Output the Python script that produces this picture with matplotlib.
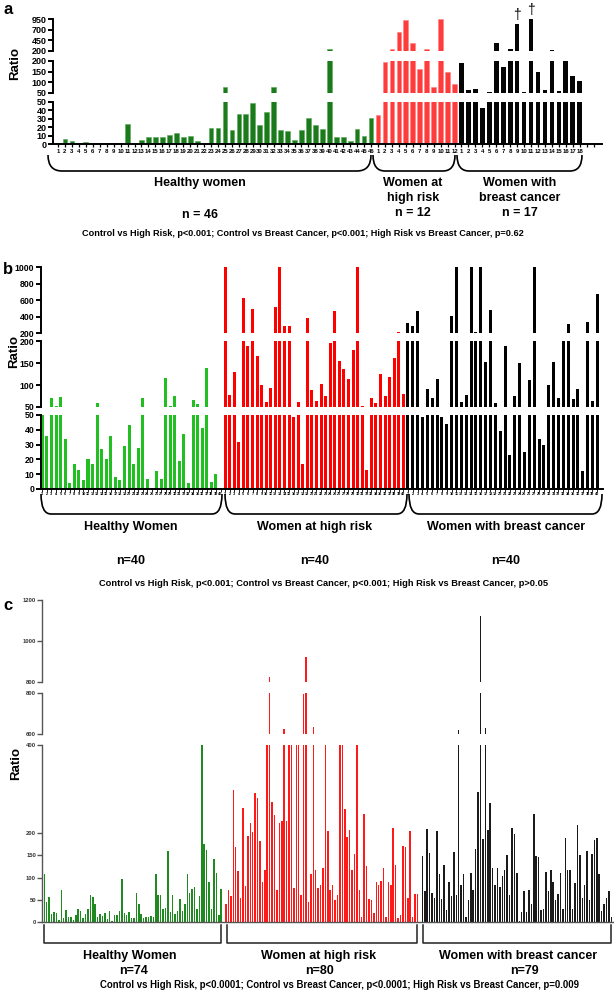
import numpy as np
import matplotlib
matplotlib.use('Agg')
import matplotlib.pyplot as plt
from matplotlib.path import Path
from matplotlib.patches import PathPatch

plt.rcParams['font.family'] = ['Liberation Sans', 'DejaVu Sans']
plt.rcParams['font.weight'] = 'bold'

# ---- panel a data (ratio per woman) ----
a_healthy = [1, 5.5, 3, 1.5, 2, 0, 0, 1, 1, 1, 24, 0, 5, 8, 8, 8.5, 10.5, 13, 8, 10,
             3.5, 0, 19, 19.5, 78, 16, 35, 35, 48, 23, 38, 78, 16, 15, 5, 16, 31, 22, 18, 250,
             8, 8.5, 3.5, 18, 10, 31]
a_risk = [34, 194, 240, 640, 925, 380, 161, 240, 78, 955, 146, 90]
a_cancer = [189, 63, 66, 42, 55, 395, 173, 240, 833, 55, 950, 150, 63, 225, 60, 199, 130, 105]
a_dagger = [9, 11]          # breast cancer cases marked with a dagger
a_extra_ticks = 2           # empty tick positions after the last group

# ---- panel b data ----
b_healthy = [51, 36, 70, 52, 73, 34, 4, 17, 13, 6, 20, 17, 58, 27, 20, 36, 8, 6, 29, 43,
             17, 28, 70, 7, 0, 12, 7, 117, 52, 75, 19, 37, 4, 67, 57, 41, 139, 5, 10, 1]
b_risk = [1000, 77, 129, 32, 624, 190, 495, 167, 100, 62, 94, 519, 1000, 289, 289, 48.6, 61, 17, 390, 88,
          64, 102, 76, 195, 475, 155, 137, 113, 180, 1000, 53, 13, 70, 59, 125, 76, 118, 162, 220, 79]
b_cancer = [321, 289, 470, 48.6, 90, 71, 113, 48.6, 44, 414, 1000, 62, 77, 1000, 212, 1000, 153, 483, 59, 39,
            190, 23, 75, 151, 25, 112, 1000, 34, 30, 100, 153, 71, 208, 313, 68, 90, 12, 337, 64, 677]

# ---- panel c data ----
c_healthy = [108, 45, 57, 18, 22, 20, 4, 72, 8, 26, 10, 11, 4, 16, 29, 25, 8, 17, 29, 61,
             55, 40, 11, 17, 14, 20, 6, 25, 2, 15, 15, 25, 97, 19, 16, 23, 8, 8, 66, 40,
             17, 8, 11, 11, 14, 11, 109, 61, 61, 28, 30, 160, 21, 61, 17, 25, 51, 24, 40, 109,
             66, 75, 78, 29, 58, 400, 177, 162, 90, 29, 142, 111, 15, 73]
c_risk = [40, 72, 58, 298, 168, 115, 53, 257, 81, 194, 223, 203, 291, 280, 182, 89, 118, 500, 824, 272,
          242, 72, 223, 229, 623, 228, 500, 500, 77, 500, 500, 60, 795, 924, 45, 109, 632, 116, 77, 82,
          122, 500, 205, 72, 82, 49, 61, 500, 500, 255, 191, 208, 117, 153, 500, 72, 11, 243, 127, 51,
          49, 20, 89, 82, 92, 122, 10, 90, 82, 211, 128, 9, 15, 171, 168, 53, 206, 11, 62, 62]
c_cancer = [149, 69, 210, 155, 66, 54, 205, 108, 51, 128, 26, 89, 58, 158, 61, 619, 82, 108, 11, 49,
            111, 72, 165, 293, 1124, 188, 627, 208, 269, 122, 83, 122, 79, 103, 116, 151, 61, 211, 199, 111,
            2, 22, 69, 22, 72, 40, 243, 149, 147, 26, 28, 113, 69, 116, 89, 49, 63, 111, 28, 189,
            118, 116, 28, 87, 219, 151, 53, 82, 160, 49, 153, 186, 189, 108, 25, 40, 53, 70, 11]

W, H = 614, 991
fig = plt.figure(figsize=(W / 100, H / 100), dpi=100)

# overlay in pixel coordinates for braces and text
ov = fig.add_axes([0, 0, 1, 1])
ov.set_xlim(0, W)
ov.set_ylim(H, 0)
ov.axis('off')


def px_ax(x0, y0, x1, y1):
    return fig.add_axes([x0 / W, 1 - y1 / H, (x1 - x0) / W, (y1 - y0) / H])


def broken_panel(x0, x1, segs, xlim, lw, color, fs, tcolor='black'):
    axes = []
    for i, (top, bot, lo, hi, ticks) in enumerate(segs):
        ax = px_ax(x0, top, x1, bot)
        ax.patch.set_alpha(0)
        ax.set_xlim(*xlim)
        ax.set_ylim(lo, hi)
        ax.set_yticks(ticks)
        ax.spines[['top', 'right']].set_visible(False)
        for s in ('left', 'bottom'):
            ax.spines[s].set_linewidth(lw)
            ax.spines[s].set_color(color)
        ax.tick_params(axis='y', labelsize=fs, width=lw, length=3.5, pad=1,
                       color=color, labelcolor=tcolor)
        if i < len(segs) - 1:
            ax.spines['bottom'].set_visible(False)
            ax.tick_params(axis='x', bottom=False, labelbottom=False)
        axes.append(ax)
    return axes


def draw_bars(axes, groups, width):
    for ax in axes:
        for pos, vals, fc, ec in groups:
            ax.bar(pos, vals, width, color=fc, edgecolor=ec, linewidth=0.4 if ec else 0)


def brace(x0, x1, ytop, ybot, r, lw=1.2):
    verts = [(x0, ytop), (x0, ybot), (x0 + r, ybot), (x1 - r, ybot), (x1, ybot), (x1, ytop)]
    codes = [Path.MOVETO, Path.CURVE3, Path.CURVE3, Path.LINETO, Path.CURVE3, Path.CURVE3]
    ov.add_patch(PathPatch(Path(verts, codes), fill=False, lw=lw, color='black'))


def bracket(x0, x1, ytop, ybot, lw=1.1):
    ov.plot([x0, x0, x1, x1], [ytop, ybot, ybot, ytop], color='#222222', lw=lw,
            solid_joinstyle='round')


def label(x, y, s, fs=9):
    ov.text(x, y, s, ha='center', va='center', fontsize=fs, fontweight='bold')


# ================= panel a =================
na, nr, nc = len(a_healthy), len(a_risk), len(a_cancer)
pa_h = 1 + np.arange(na)
pa_r = 1 + na + np.arange(nr)
pa_c = 1 + na + nr + np.arange(nc)
n_ticks = na + nr + nc + a_extra_ticks

axa = broken_panel(53, 602,
                   [(19, 51, 200, 950, [200, 450, 700, 950]),
                    (61, 92.7, 50, 200, [50, 100, 150, 200]),
                    (101.7, 144, 0, 50, [0, 10, 20, 30, 40, 50])],
                   (0.28, 79.2), 1.4, 'black', 6.5)
draw_bars(axa, [(pa_h, a_healthy, '#1b7a1b', '#58a858'),
                (pa_r, a_risk, '#ff3c3c', '#ff8080'),
                (pa_c, a_cancer, '#050505', None)], 0.68)
a_labels = [str(i + 1) for i in range(na)] + [str(i + 1) for i in range(nr)] + \
           [str(i + 1) for i in range(nc)] + [''] * a_extra_ticks
axa[-1].set_xticks(np.arange(1, n_ticks + 1))
axa[-1].set_xticklabels(a_labels, fontsize=4.3)
axa[-1].tick_params(axis='x', length=2.5, width=0.9, pad=1)
for k in a_dagger:
    axa[0].text(pa_c[k - 1], a_cancer[k - 1] + 40, '\u2020', ha='center', va='bottom',
                fontsize=10, fontweight='normal', clip_on=False)

ov.text(8, 10, 'a', ha='center', va='center', fontsize=12, fontweight='bold')
ov.text(15, 64, 'Ratio', ha='center', va='center', fontsize=9.5, rotation=90)
brace(48, 371, 155, 171, 14)
brace(373, 455, 155, 171, 12)
brace(457, 582, 155, 171, 12)
label(200, 183, 'Healthy women')
label(200, 215, 'n = 46')
label(413, 183, 'Women at')
label(413, 198, 'high risk')
label(413, 213, 'n = 12')
label(520, 183, 'Women with')
label(520, 198, 'breast cancer')
label(520, 213, 'n = 17')
label(303, 233, 'Control vs High Risk, p<0.001; Control vs Breast Cancer, p<0.001; '
                'High Risk vs Breast Cancer, p=0.62', fs=6.6)

# ================= panel b =================
nbh, nbr, nbc = len(b_healthy), len(b_risk), len(b_cancer)
pb_h = np.arange(nbh)
pb_r = nbh + np.arange(nbr)
pb_c = nbh + nbr + np.arange(nbc) * 1.063

axb = broken_panel(40.7, 603,
                   [(267.3, 333.3, 200, 1000, [200, 400, 600, 800, 1000]),
                    (341.3, 407, 50, 200, [50, 100, 150, 200]),
                    (415, 489, 0, 50, [0, 10, 20, 30, 40, 50])],
                   (-0.35, 122.7), 1.4, 'black', 6.3)
draw_bars(axb, [(pb_h, b_healthy, '#22bf22', None),
                (pb_r, b_risk, '#ff0000', None),
                (pb_c, b_cancer, '#000000', None)], 0.66)
axb[-1].set_xticks(np.concatenate([pb_h, pb_r, pb_c]))
axb[-1].set_xticklabels([str(i + 1) for i in range(nbh)] + [str(i + 1) for i in range(nbr)] +
                        [str(i + 1) for i in range(nbc)], fontsize=2.8)
axb[-1].tick_params(axis='x', length=2, width=0.6, pad=0.5)

ov.text(8, 269, 'b', ha='center', va='center', fontsize=12, fontweight='bold')
ov.text(14, 352, 'Ratio', ha='center', va='center', fontsize=9.5, rotation=90)
brace(41, 222, 494, 514, 10)
brace(225, 407, 494, 514, 10)
brace(409, 602, 494, 514, 10)
label(131, 527, 'Healthy Women')
label(315, 527, 'Women at high risk')
label(506, 527, 'Women with breast cancer')
for x in (131, 315, 506):
    label(x, 561, 'n=40')
label(324, 583, 'Control vs High Risk, p<0.001; Control vs Breast Cancer, p<0.001; '
                'High Risk vs Breast Cancer, p>0.05', fs=6.7)

# ================= panel c =================
nch, ncr, ncc = len(c_healthy), len(c_risk), len(c_cancer)
pc_h = np.arange(nch)
pc_r = nch + 1 + np.arange(ncr)
pc_c = nch + ncr + 2 + np.arange(ncc)

axc = broken_panel(42.3, 614,
                   [(600, 682.3, 800, 1200, [800, 1000, 1200]),
                    (692.7, 734, 600, 800, [600, 800]),
                    (745, 921.7, 0, 400, [0, 50, 100, 150, 200, 400])],
                   (-0.83, 235.1), 1.0, '#555555', 4.2, tcolor='#333333')
draw_bars(axc, [(pc_h, c_healthy, '#1f8a1f', None),
                (pc_r, c_risk, '#ff1a1a', None),
                (pc_c, c_cancer, '#1a1a1a', None)], 0.62)
axc[-1].set_xticks([])

ov.text(8, 606, 'c', ha='center', va='center', fontsize=12, fontweight='bold')
ov.text(16, 764, 'Ratio', ha='center', va='center', fontsize=9.5, rotation=90)
bracket(44, 221, 925, 943)
bracket(227, 417, 925, 943)
bracket(423, 611, 925, 943)
label(130, 956, 'Healthy Women')
label(319, 956, 'Women at high risk')
label(518, 956, 'Women with breast cancer')
label(134, 971, 'n=74')
label(320, 971, 'n=80')
label(524, 971, 'n=79')
label(340, 985, 'Control vs High Risk, p<0.0001; Control vs Breast Cancer, p<0.0001; '
                'High Risk vs Breast Cancer, p=0.009', fs=6.9)

fig.savefig('out.png', dpi=100)
